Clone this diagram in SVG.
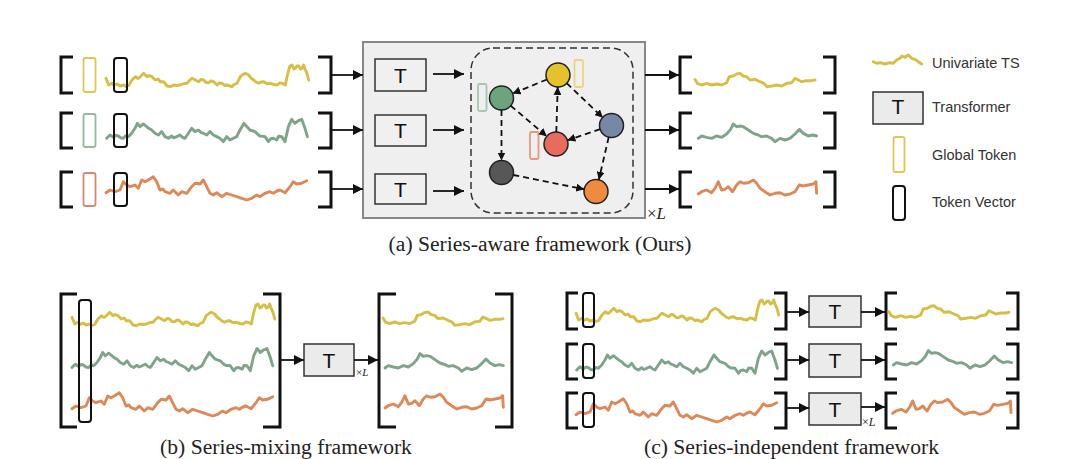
<svg xmlns="http://www.w3.org/2000/svg" xmlns:xlink="http://www.w3.org/1999/xlink" width="1080" height="459" viewBox="0 0 1080 459">
<style>
.wave{fill:none;stroke-width:2.9;stroke-linejoin:round;stroke-linecap:round}
.wy{stroke:#d7be44}.wg{stroke:#7fa48c}.wo{stroke:#de8858}
.br{fill:none;stroke:#111;stroke-width:3}
.tv{fill:none;stroke:#111;stroke-width:2}
.gt{fill:none;stroke-width:1.8}
.tbox{fill:#f0f0f0;stroke:#333;stroke-width:1.5}
.tbox2{fill:#ebebeb;stroke:#333;stroke-width:1.5}
.tt{font-family:"Liberation Sans",Arial,sans-serif;font-size:21px;fill:#111;text-anchor:middle}
.leg{font-family:"Liberation Sans",Arial,sans-serif;font-size:14.5px;fill:#333}
.cap{font-family:"Liberation Serif","Times New Roman",serif;font-size:21.6px;fill:#222;text-anchor:middle}
.xl{font-family:"Liberation Serif","Times New Roman",serif;fill:#222}
.arr{fill:none;stroke:#111;stroke-width:1.8}
.darr{fill:none;stroke:#111;stroke-width:1.8;stroke-dasharray:6 4}
.node{stroke:#222;stroke-width:1.5}
</style>
<defs>
<marker id="ah" markerUnits="userSpaceOnUse" markerWidth="11" markerHeight="10" refX="10" refY="5" orient="auto"><path d="M0,0 L10,5 L0,10 Z" fill="#111"/></marker>
<marker id="dh" markerUnits="userSpaceOnUse" markerWidth="9" markerHeight="8" refX="8" refY="4" orient="auto"><path d="M0,0 L8,4 L0,8 Z" fill="#111"/></marker>
<path id="IY" class="wave wy" d="M0,-1.7 L2.7,5 L6,3.3 L8,5.5 L11,4 L14,6 L17.7,5 L20,6.5 L22.7,5.5 L26,0 L29.3,-3.3 L31,-2 L32.7,-1.7 L35,-4 L37.7,-6.7 L41,-3.3 L43,-4.5 L46,-3.3 L49.3,0 L52,-1 L54.3,1.7 L57.7,1.7 L61,6 L64.3,6.7 L67.7,5 L71,5.5 L74.3,5 L78,3.5 L81,3.3 L84,0 L86,-1.7 L89.3,0 L92.7,1.7 L95,-0.5 L97.7,0 L100,2.5 L102.7,2.7 L105,1 L107.7,1.7 L111,5 L113,3 L116,3.3 L119,5.5 L121,5 L124,6 L126,6.7 L128,4.5 L131,3.3 L134.3,-3.3 L137,-5.5 L139.3,-6.7 L142.7,-5 L145,-2 L147.7,0 L150,2 L152.7,3.3 L155,2 L157.7,1.7 L161,3.8 L164.3,3.3 L168,4.5 L171,5 L174,2.8 L176,3.3 L179.3,5 L181,-3 L182.7,-10 L184,-14 L186,-15 L188,-11 L189.3,-11.7 L191,-14 L192.7,-14 L194.5,-11 L196,-11.7 L197.7,-15 L199,-11 L201,-6.7 L202.7,0"/>
<path id="IG" class="wave wg" d="M0,5 L3.3,1.7 L6.7,4 L9,2 L11.7,2.7 L14,4.5 L16.7,5 L19,2.5 L21.7,3.3 L25,0 L28.3,-5 L30.7,-10 L33.3,-6.7 L36.7,-9.3 L40,-6.7 L42,-5 L45,-3.3 L48.3,0 L51.7,1.7 L55,-1.7 L58.3,3.3 L61.7,5 L65,2.7 L67,4.5 L70,3.3 L73.3,1.7 L76,4 L78.3,5 L81.7,0 L85,-5 L88.3,-1.7 L91.7,-3.3 L94,-1 L96.7,0 L100,1.7 L103.3,-1.7 L106.7,1.7 L110,3.3 L113.3,5 L116.7,8.3 L120,3.3 L123.3,6.7 L126.7,5 L130,3.3 L133.3,-3.3 L137.3,-10 L140,-6.7 L143.3,-3.3 L148.3,-1.7 L151,1 L153.3,2.7 L158.3,3.3 L161.7,8.3 L164,5.5 L166.7,5 L170,6.7 L172,3 L175,3.3 L178.3,8.3 L181.7,-6.7 L185,-14 L188.3,-10 L191.7,-12.7 L195,-14 L198.3,-5 L200.7,3.3"/>
<path id="IO" class="wave wo" d="M0,2.7 L4,0 L9,1.7 L14,0 L17.3,-8.3 L20.7,-5 L24,-3.3 L29,-5 L32.3,-1.7 L35.7,-10 L39,-8.3 L42.3,-10 L47.3,-13.3 L50.7,-8.3 L54,0 L57,-1 L59,1.7 L64,3.3 L67.3,0 L72.3,5 L75.7,1.7 L80.7,3.3 L85.7,-3.3 L89,-6.7 L94,-6 L97.3,-10 L100.7,-3.3 L104,3.3 L107.3,5 L110.7,2.7 L115.7,6.7 L120.7,3.3 L125.7,5 L130.7,6.7 L135.7,8.3 L140.7,10 L145.7,8.3 L150.7,5 L154,6.7 L159,3.3 L164,1.7 L167.3,3.3 L171,1 L174,0 L179,2.7 L184,-3.3 L187.3,-8.3 L190.7,-6 L195.7,-6.7 L200.7,-9.3"/>
<path id="OY" class="wave wy" d="M0,-2.3 L2.3,1.7 L6.7,3.3 L11.7,1.7 L16.7,3.3 L21.7,2.3 L26.7,3.3 L31.7,1 L34.3,-5 L38.3,-5.7 L41.7,-7.7 L45,-8.3 L48.3,-5.7 L51.7,-5 L55,-1.7 L60,-2.3 L65,0 L69,1.7 L71.7,5 L76.7,4.3 L81.7,3.3 L86.7,4.3 L91.7,1.7 L96.7,1 L100,-3.3 L103.3,-1.7 L106.7,0 L111.7,-1 L116.7,-1 L120,-1.7"/>
<path id="OG" class="wave wg" d="M0,1.7 L3.3,-0.7 L8.3,0.7 L13.3,1.7 L18.3,-0.7 L23.3,0.7 L28.3,-2.7 L32.3,-7.3 L35,-12.7 L38.3,-10 L41.7,-10.7 L45,-10 L50,-6.7 L55,-3.3 L60,-1.7 L63.3,0 L68.3,-0.7 L73.3,1.7 L76.7,5 L81.7,1.7 L86.7,3.3 L91.7,1.7 L96.7,-2.7 L101,-7.3 L105,-3.3 L110,-0.7 L114.3,-1.7 L118.3,-0.7"/>
<path id="OO" class="wave wo" d="M0,4 L3.3,1.7 L8.3,0 L13.3,2.7 L16.7,-1.7 L20,-8.3 L23.3,0 L26.7,-0.7 L30,-3.3 L34.3,1.7 L38.3,-5 L41.7,-8.3 L45,-6.7 L50,-7.3 L55,-10 L58.3,-6.7 L61.7,-1.7 L66.7,1.7 L71.7,5 L76.7,3.3 L81.7,2.7 L86.7,5 L91.7,4 L96.7,1.7 L101,-5 L105,-4 L110,-5 L115,-6 L117.7,-8.3 L118.3,3.3"/>
</defs>
<rect width="1080" height="459" fill="#ffffff"/>

<!-- (a) series-aware framework -->
<g id="a-inputs">
<path class="br" d="M73,57 H61 V93 H73"/>
<path class="br" d="M73,113 H61 V148 H73"/>
<path class="br" d="M73,172 H61 V207 H73"/>
<rect class="gt" x="83.5" y="58" width="12" height="34" rx="2" stroke="#e2c653"/>
<rect class="gt" x="83.5" y="114" width="12" height="33" rx="2" stroke="#94b8a0"/>
<rect class="gt" x="83.5" y="173" width="12" height="33" rx="2" stroke="#dc8670"/>
<use href="#IY" x="106" y="80"/>
<use href="#IG" x="106.7" y="133.3"/>
<use href="#IO" x="106" y="190"/>
<rect class="tv" x="114" y="58" width="13" height="34" rx="3"/>
<rect class="tv" x="114" y="114" width="13" height="33" rx="3"/>
<rect class="tv" x="114" y="173" width="13" height="33" rx="3"/>
<path class="br" d="M318,57 H331 V93 H318"/>
<path class="br" d="M318,113 H331 V148 H318"/>
<path class="br" d="M318,172 H331 V207 H318"/>
</g>

<g id="a-block">
<rect x="363" y="42" width="282" height="176" fill="#efefef" stroke="#888" stroke-width="2"/>
<rect x="471" y="48" width="162" height="165" rx="22" fill="none" stroke="#333" stroke-width="1.5" stroke-dasharray="7 4"/>
<text class="xl" x="647" y="219" font-size="17">×<tspan font-style="italic">L</tspan></text>
</g>
<g id="a-T1"><rect class="tbox" x="375" y="59" width="51" height="32"/><text class="tt" x="400.5" y="82.5">T</text></g>
<g id="a-T2"><rect class="tbox" x="375" y="115" width="51" height="31"/><text class="tt" x="400.5" y="138">T</text></g>
<g id="a-T3"><rect class="tbox" x="375" y="174" width="51" height="30"/><text class="tt" x="400.5" y="196.5">T</text></g>

<g id="a-tokens">
<rect class="gt" x="574.5" y="60" width="8.5" height="27" rx="1.5" stroke="#ead57e"/>
<rect class="gt" x="478" y="84" width="8.5" height="27" rx="1.5" stroke="#a7c6b0"/>
<rect class="gt" x="530" y="132" width="8.5" height="27" rx="1.5" stroke="#e8977f"/>
</g>
<g id="n-yellow"><circle class="node" cx="558" cy="75" r="12" fill="#e5c12c"/></g>
<g id="n-green"><circle class="node" cx="501.5" cy="98" r="12" fill="#6ca47c"/></g>
<g id="n-blue"><circle class="node" cx="611.5" cy="125.5" r="12" fill="#7688a6"/></g>
<g id="n-red"><circle class="node" cx="556" cy="144" r="12" fill="#e86c5c"/></g>
<g id="n-dark"><circle class="node" cx="501.5" cy="172.5" r="12" fill="#575757"/></g>
<g id="n-orange"><circle class="node" cx="596" cy="191.5" r="12" fill="#ef8a3f"/></g>

<g id="a-outputs">
<path class="br" d="M692,57 H680 V93 H692"/>
<path class="br" d="M692,113 H680 V148 H692"/>
<path class="br" d="M692,172 H680 V207 H692"/>
<use href="#OY" x="695" y="81.7"/>
<use href="#OG" x="698.3" y="136.7"/>
<use href="#OO" x="698.3" y="190"/>
<path class="br" d="M823,57 H835 V93 H823"/>
<path class="br" d="M823,113 H835 V148 H823"/>
<path class="br" d="M823,172 H835 V207 H823"/>
</g>

<!-- legend -->
<g id="legend-ts">
<path class="wave wy" d="M873.3,61.7 L876.7,63.3 L880,62.7 L885,64 L890,62.7 L893.3,63.3 L896.7,60 L900,58.3 L901.7,56 L905,57.3 L908.3,55 L911.7,58.3 L915,59.3 L918.3,61.7 L921.7,64"/>
<text class="leg" x="932" y="68">Univariate TS</text>
</g>
<g id="legend-T">
<rect class="tbox2" x="873" y="92" width="50" height="32"/>
<text class="tt" x="898" y="114" font-size="17">T</text>
<text class="leg" x="932" y="112">Transformer</text>
</g>
<g id="legend-gt">
<rect class="gt" x="893.5" y="137" width="11" height="35" rx="2" stroke="#e2c653"/>
<text class="leg" x="932" y="160">Global Token</text>
</g>
<g id="legend-tv">
<rect class="tv" x="893" y="186" width="12" height="34" rx="3"/>
<text class="leg" x="932" y="207">Token Vector</text>
</g>

<text id="cap-a" class="cap" x="540" y="251">(a) Series-aware framework (Ours)</text>

<!-- (b) series-mixing -->
<g id="b-input">
<path class="br" d="M77,294 H61 V427 H77"/>
<use href="#IY" x="72" y="319"/>
<use href="#IG" x="72" y="362.5"/>
<use href="#IO" x="72" y="406"/>
<rect class="tv" x="79" y="300" width="12" height="122" rx="3"/>
<path class="br" d="M263,294 H280 V427 H263"/>
</g>
<g id="b-T"><rect class="tbox2" x="304" y="344" width="50" height="32"/><text class="tt" x="329" y="367.5">T</text><text class="xl" x="356" y="376" font-size="11">×<tspan font-style="italic">L</tspan></text></g>
<g id="b-output">
<path class="br" d="M396,294 H379 V427 H396"/>
<use href="#OY" x="383" y="320.3"/>
<use href="#OG" x="385" y="366.3"/>
<use href="#OO" x="385" y="404"/>
<path class="br" d="M495,294 H512 V427 H495"/>
</g>
<text id="cap-b" class="cap" x="286" y="453.5">(b) Series-mixing framework</text>

<!-- (c) series-independent -->
<g id="c-inputs">
<path class="br" d="M578,293 H567 V329 H578"/>
<path class="br" d="M578,344 H567 V379 H578"/>
<path class="br" d="M578,393 H567 V428 H578"/>
<use href="#IY" x="576" y="315"/>
<use href="#IG" x="576.7" y="365"/>
<use href="#IO" x="576" y="412"/>
<rect class="tv" x="583" y="293" width="11" height="34" rx="3"/>
<rect class="tv" x="583" y="344" width="11" height="34" rx="3"/>
<rect class="tv" x="583" y="393" width="11" height="34" rx="3"/>
<path class="br" d="M774,293 H786 V329 H774"/>
<path class="br" d="M774,344 H786 V379 H774"/>
<path class="br" d="M774,393 H786 V428 H774"/>
</g>
<g id="c-T1"><rect class="tbox2" x="809" y="296" width="52" height="31"/><text class="tt" x="835" y="319">T</text></g>
<g id="c-T2"><rect class="tbox2" x="809" y="344" width="52" height="33"/><text class="tt" x="835" y="368">T</text></g>
<g id="c-T3"><rect class="tbox2" x="809" y="393" width="52" height="32"/><text class="tt" x="835" y="416.5">T</text><text class="xl" x="862" y="426" font-size="12">×<tspan font-style="italic">L</tspan></text></g>
<g id="c-outputs">
<path class="br" d="M897,293 H886 V329 H897"/>
<path class="br" d="M897,344 H886 V379 H897"/>
<path class="br" d="M897,393 H886 V428 H897"/>
<use href="#OY" x="889" y="314"/>
<use href="#OG" x="893.3" y="363.3"/>
<use href="#OO" x="892.7" y="409.3"/>
<path class="br" d="M1006,293 H1018 V329 H1006"/>
<path class="br" d="M1006,344 H1018 V379 H1006"/>
<path class="br" d="M1006,393 H1018 V428 H1006"/>
</g>
<text id="cap-c" class="cap" x="791.5" y="453.5">(c) Series-independent framework</text>

<g id="connectors">
<path class="arr" marker-end="url(#ah)" d="M332,75 H363"/>
<path class="arr" marker-end="url(#ah)" d="M332,130 H363"/>
<path class="arr" marker-end="url(#ah)" d="M332,189 H363"/>
<path class="arr" marker-end="url(#ah)" d="M433,74 H464"/>
<path class="arr" marker-end="url(#ah)" d="M433,130 H464"/>
<path class="arr" marker-end="url(#ah)" d="M433,191 H464"/>
<path class="arr" marker-end="url(#ah)" d="M645,75 H679"/>
<path class="arr" marker-end="url(#ah)" d="M645,130 H679"/>
<path class="arr" marker-end="url(#ah)" d="M645,189 H679"/>
<path class="darr" marker-end="url(#dh)" d="M546.9,79.5 L512.6,93.5"/>
<path class="darr" marker-end="url(#dh)" d="M566.7,83.2 L603,117.8"/>
<path class="darr" marker-end="url(#dh)" d="M556.3,132 L557.7,87"/>
<path class="darr" marker-end="url(#dh)" d="M510.7,105.7 L546.8,136.3"/>
<path class="darr" marker-end="url(#dh)" d="M600.1,129.2 L567.4,140.3"/>
<path class="darr" marker-end="url(#dh)" d="M501.5,110 L501.5,160.5"/>
<path class="darr" marker-end="url(#dh)" d="M513.3,175 L584.2,189.2"/>
<path class="darr" marker-end="url(#dh)" d="M608.7,137.2 L598.8,179.8"/>
<path class="arr" marker-end="url(#ah)" d="M281,360 H304"/>
<path class="arr" marker-end="url(#ah)" d="M354,360 H378"/>
<path class="arr" marker-end="url(#ah)" d="M787,312 H809"/>
<path class="arr" marker-end="url(#ah)" d="M787,360 H809"/>
<path class="arr" marker-end="url(#ah)" d="M787,408 H809"/>
<path class="arr" marker-end="url(#ah)" d="M861,312 H885"/>
<path class="arr" marker-end="url(#ah)" d="M861,360 H885"/>
<path class="arr" marker-end="url(#ah)" d="M861,407 H885"/>
</g>
</svg>
